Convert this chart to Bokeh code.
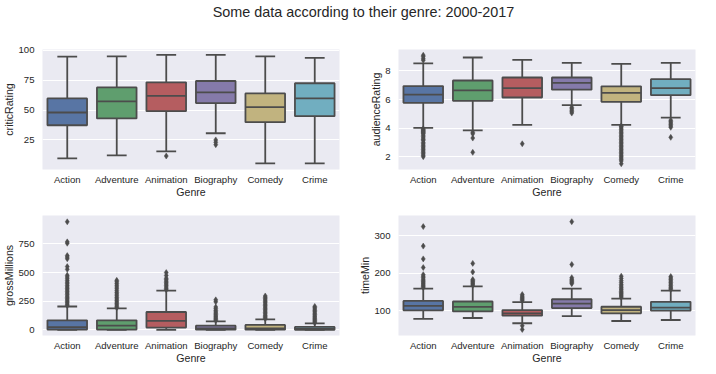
from bokeh.plotting import figure
from bokeh.models import Range1d, FixedTicker, Div
from bokeh.layouts import column, row
from bokeh.embed import file_html
from bokeh.resources import INLINE

genres = ["Action", "Adventure", "Animation", "Biography", "Comedy", "Crime"]
box_colors = ["#5875A4", "#5F9E6E", "#B55D60", "#857AAA", "#C1B37F", "#71AEC0"]
edge_gray = "#4c4c4c"
title_text = "Some data according to their genre: 2000-2017"

# criticRating
critic_lower = [9.5, 12.0, 15.4, 30.6, 5.3, 5.3]
critic_q1 = [37.3, 43.0, 49.1, 55.9, 39.9, 44.9]
critic_median = [48.0, 57.3, 62.0, 64.9, 52.5, 59.8]
critic_q3 = [59.8, 69.0, 73.3, 74.4, 64.0, 72.5]
critic_upper = [94.9, 95.0, 96.3, 96.3, 95.0, 93.8]
critic_outliers = [[], [], [11.5], [25, 23, 21], [], []]
critic_ticks = [25, 50, 75, 100]

# audienceRating
aud_lower = [4.02, 3.84, 4.23, 5.61, 4.23, 4.73]
aud_q1 = [5.77, 5.91, 6.14, 6.69, 5.84, 6.30]
aud_median = [6.34, 6.64, 6.80, 7.17, 6.46, 6.80]
aud_q3 = [6.94, 7.33, 7.54, 7.54, 6.92, 7.42]
aud_upper = [8.53, 8.94, 8.78, 8.57, 8.50, 8.57]
aud_outliers = [
    [9.1, 9.0, 8.85, 8.75, 3.95, 3.9, 3.85, 3.8, 3.75, 3.7, 3.65, 3.6, 3.5, 3.4,
     3.3, 3.2, 3.15, 3.0, 2.9, 2.8, 2.7, 2.6, 2.5, 2.4, 2.3, 2.2, 2.1, 2.0],
    [3.7, 3.6, 3.3, 2.3],
    [2.9],
    [5.45, 5.35, 5.25, 5.15, 5.05],
    [4.15, 4.1, 4.0, 3.9, 3.8, 3.7, 3.6, 3.5, 3.4, 3.3, 3.2, 3.1, 3.0, 2.9, 2.8,
     2.7, 2.6, 2.5, 2.4, 2.3, 2.2, 2.1, 2.0, 1.9, 1.8, 1.7, 1.5],
    [4.55, 4.45, 4.35, 4.25, 4.15, 4.05, 3.35],
]
aud_ticks = [2, 4, 6, 8]

# grossMillions
gross_lower = [0, 0, 0, 0, 0, 0]
gross_q1 = [3, 3, 20, 2, 2, 1]
gross_median = [23, 37, 78, 12, 12, 8]
gross_q3 = [83, 83, 156, 37, 43, 26]
gross_upper = [204, 187, 343, 75, 92, 57]
gross_outliers = [
    [212, 224, 236, 248, 260, 272, 284, 296, 310, 322, 335, 348, 361, 374, 388,
     402, 416, 430, 446, 462, 476, 528, 552, 620, 635, 648, 756, 768, 943],
    [193, 205, 218, 230, 243, 256, 270, 283, 297, 312, 327, 342, 358, 374, 390,
     405, 420, 432],
    [350, 362, 375, 388, 400, 412, 425, 438, 450, 475, 500],
    [82, 92, 102, 112, 122, 133, 145, 157, 170, 185, 200, 245, 262],
    [98, 108, 118, 128, 140, 152, 164, 176, 188, 200, 212, 224, 236, 248, 260,
     272, 284, 296],
    [62, 72, 82, 92, 102, 112, 122, 134, 146, 158, 170, 182, 194, 205],
]
gross_ticks = [0, 250, 500, 750]

# timeMin
time_lower = [78.0, 80.6, 66.6, 85.8, 72.6, 75.3]
time_q1 = [101.0, 98.0, 86.8, 107.0, 93.0, 100.0]
time_median = [113.0, 110.0, 93.0, 119.0, 101.6, 108.0]
time_q3 = [126.0, 124.5, 101.6, 130.5, 110.5, 123.6]
time_upper = [159.0, 164.7, 122.6, 158.7, 132.4, 153.4]
time_outliers = [
    [162, 165, 168, 171, 174, 177, 180, 184, 188, 192, 196, 215, 238, 272, 324],
    [168, 171, 174, 177, 180, 183, 203, 226],
    [127, 130, 133, 136, 139, 143, 60, 50],
    [172, 175, 178, 181, 184, 188, 223, 337],
    [136, 139, 142, 145, 148, 151, 155, 158, 162, 166, 170, 175, 180, 186, 192],
    [157, 160, 163, 167, 171, 175, 179, 183, 187, 191],
]
time_ticks = [100, 200, 300]

FONT = "Liberation Sans"
TXT = "#262626"
LW = 1.8


def panel(ylabel, lower, q1, med, q3, upper, outliers, yr, ticks,
          width, height, bl, br, bt, bb):
    p = figure(width=width, height=height, output_backend="svg",
               toolbar_location=None, x_range=Range1d(-0.5, 5.5),
               y_range=Range1d(*yr), min_border_left=bl, min_border_right=br,
               min_border_top=bt, min_border_bottom=bb)
    p.background_fill_color = "#EAEAF2"
    p.border_fill_color = "white"
    p.outline_line_color = None
    pos = list(range(len(genres)))
    half = 0.4
    cap = 0.2
    # whiskers
    p.segment(x0=pos, x1=pos, y0=q3, y1=upper, line_color=edge_gray, line_width=LW)
    p.segment(x0=pos, x1=pos, y0=q1, y1=lower, line_color=edge_gray, line_width=LW)
    p.segment(x0=[i - cap for i in pos], x1=[i + cap for i in pos], y0=upper, y1=upper,
              line_color=edge_gray, line_width=LW)
    p.segment(x0=[i - cap for i in pos], x1=[i + cap for i in pos], y0=lower, y1=lower,
              line_color=edge_gray, line_width=LW)
    # boxes
    p.vbar(x=pos, width=2 * half, top=q3, bottom=q1, fill_color=box_colors,
           line_color=edge_gray, line_width=LW)
    # medians
    p.segment(x0=[i - half for i in pos], x1=[i + half for i in pos], y0=med, y1=med,
              line_color=edge_gray, line_width=LW)
    # outliers
    ox = [i for i, vals in enumerate(outliers) for v in vals]
    oy = [v for vals in outliers for v in vals]
    p.scatter(x=ox, y=oy, marker="diamond", size=6, fill_color=edge_gray,
              line_color=edge_gray, line_width=0.5)

    p.xaxis.ticker = FixedTicker(ticks=pos)
    p.xaxis.major_label_overrides = {i: g for i, g in enumerate(genres)}
    p.yaxis.ticker = FixedTicker(ticks=ticks)
    p.xgrid.grid_line_color = None
    p.ygrid.grid_line_color = "white"
    p.ygrid.grid_line_width = 1
    for ax in (p.xaxis, p.yaxis):
        ax.axis_line_color = None
        ax.major_tick_line_color = None
        ax.minor_tick_line_color = None
        ax.major_tick_out = 0
        ax.major_tick_in = 0
        ax.major_label_text_font = FONT
        ax.major_label_text_font_size = "9.6px"
        ax.major_label_text_color = TXT
        ax.axis_label_text_font = FONT
        ax.axis_label_text_font_size = "10.6px"
        ax.axis_label_text_font_style = "normal"
        ax.axis_label_text_color = TXT
    p.xaxis.axis_label = "Genre"
    p.yaxis.axis_label = ylabel
    p.xaxis.major_label_standoff = 4
    p.xaxis.axis_label_standoff = -2
    p.yaxis.major_label_standoff = 8
    p.yaxis.axis_label_standoff = 0
    return p


p1 = panel("criticRating", critic_lower, critic_q1, critic_median, critic_q3,
           critic_upper, critic_outliers, (0.2, 100.8), critic_ticks,
           366, 169, 42, 27, 15, 34)
p2 = panel("audienceRating", aud_lower, aud_q1, aud_median, aud_q3,
           aud_upper, aud_outliers, (1.1, 9.5), aud_ticks,
           334, 169, 32, 5, 15, 34)
p3 = panel("grossMillions", gross_lower, gross_q1, gross_median, gross_q3,
           gross_upper, gross_outliers, (-49, 998), gross_ticks,
           356, 165, 42, 17, 12, 33)
p4 = panel("timeMin", time_lower, time_q1, time_median, time_q3,
           time_upper, time_outliers, (34, 353.5), time_ticks,
           344, 165, 42, 5, 12, 33)

title_html = ('<div style="width:700px; box-sizing:border-box; text-align:center; '
              'padding-left:17px; font-family:\'Liberation Sans\'; font-size:14.4px; '
              'color:#262626; line-height:15px; white-space:nowrap;">'
              + title_text + '</div>')
title = Div(text=title_html, width=700, height=24)

layout = column(title, row(p1, p2), row(p3, p4))
open("out.html", "w").write(file_html(layout, INLINE))
